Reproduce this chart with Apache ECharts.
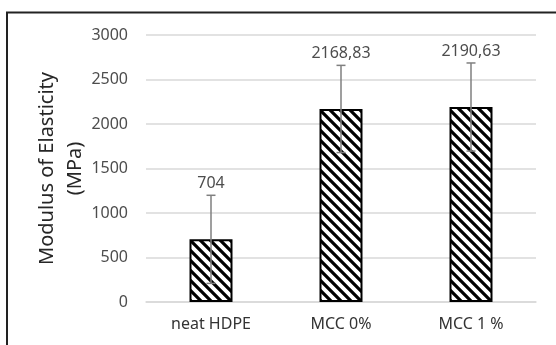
<!DOCTYPE html>
<html>
<head>
<meta charset="utf-8">
<script src="https://cdn.jsdelivr.net/npm/echarts@6/dist/echarts.min.js"></script>
<style>
  html, body { margin: 0; padding: 0; background: #fff; }
  #chart { width: 556px; height: 345px; }
</style>
</head>
<body>
<div id="chart"></div>
<script>
const categories = ['neat HDPE', 'MCC 0%', 'MCC 1 %'];
const values = [704, 2168.83, 2190.63];
const errors = [495, 490, 495];
const labels = ['704', '2168,83', '2190,63'];
const yTicks = [0, 500, 1000, 1500, 2000, 2500, 3000];

// diagonal hatch tile
const makeHatch = () => {
    const c = document.createElement('canvas');
    c.width = 10;
    c.height = 10;
    const ctx = c.getContext('2d');
    ctx.fillStyle = '#fff';
    ctx.fillRect(0, 0, 10, 10);
    ctx.strokeStyle = '#000';
    ctx.lineWidth = 3.2;
    ctx.beginPath();
    ctx.moveTo(-5, -5); ctx.lineTo(15, 15);
    ctx.moveTo(-5, 5); ctx.lineTo(5, 15);
    ctx.moveTo(5, -5); ctx.lineTo(15, 5);
    ctx.stroke();
    return c;
};

const font = '"Noto Sans", sans-serif';
const errData = values.map((v, i) => [i, v - errors[i], v + errors[i], labels[i]]);

const myChart = echarts.init(document.getElementById('chart'));
const option = {
    animation: false,
    grid: { left: 146, right: 20, top: 35, bottom: 43 },
    graphic: [{
        type: 'polyline',
        shape: { points: [[7, 345], [7, 12.5], [556, 12.5]] },
        style: { stroke: '#222', lineWidth: 2, fill: null },
        silent: true
    }],
    xAxis: {
        type: 'category',
        data: categories,
        axisLine: { lineStyle: { color: '#d9d9d9', width: 1.5 } },
        axisTick: { show: false },
        axisLabel: { color: '#333', fontSize: 16, fontFamily: font, margin: 14 }
    },
    yAxis: {
        type: 'value',
        min: yTicks[0],
        max: yTicks[yTicks.length - 1],
        interval: 500,
        name: 'Modulus of Elasticity\n(MPa)',
        nameLocation: 'middle',
        nameRotate: 90,
        nameGap: 57,
        nameMoveOverlap: false,
        nameTextStyle: { color: '#262626', fontSize: 20, fontFamily: font, lineHeight: 28 },
        axisLine: { show: false },
        axisTick: { show: false },
        splitLine: { lineStyle: { color: '#d9d9d9', width: 1.5 } },
        axisLabel: {
            color: '#4d4d4d', fontSize: 16, fontFamily: font, margin: 18,
            formatter: v => String(v)
        }
    },
    series: [{
        type: 'bar',
        data: values,
        barWidth: 43,
        itemStyle: {
            color: { image: makeHatch(), repeat: 'repeat' },
            borderColor: '#000',
            borderWidth: 2
        }
    }, {
        type: 'custom',
        data: errData,
        z: 5,
        renderItem: function(params, api) {
            const x = api.coord([api.value(0), 0])[0];
            const lo = api.coord([api.value(0), api.value(1)])[1];
            const hi = api.coord([api.value(0), api.value(2)])[1];
            const st = { stroke: '#7f7f7f', lineWidth: 1.5 };
            return {
                type: 'group',
                children: [
                    { type: 'line', shape: { x1: x, y1: lo, x2: x, y2: hi }, style: st },
                    { type: 'line', shape: { x1: x - 4.5, y1: hi, x2: x + 4.5, y2: hi }, style: st },
                    { type: 'line', shape: { x1: x - 4.5, y1: lo, x2: x + 4.5, y2: lo }, style: st },
                    {
                        type: 'text',
                        x: x,
                        y: hi - 12,
                        style: {
                            text: labels[params.dataIndex],
                            fill: '#4d4d4d',
                            font: '16px ' + font,
                            align: 'center',
                            verticalAlign: 'middle'
                        }
                    }
                ]
            };
        }
    }]
};
myChart.setOption(option);
</script>
</body>
</html>
